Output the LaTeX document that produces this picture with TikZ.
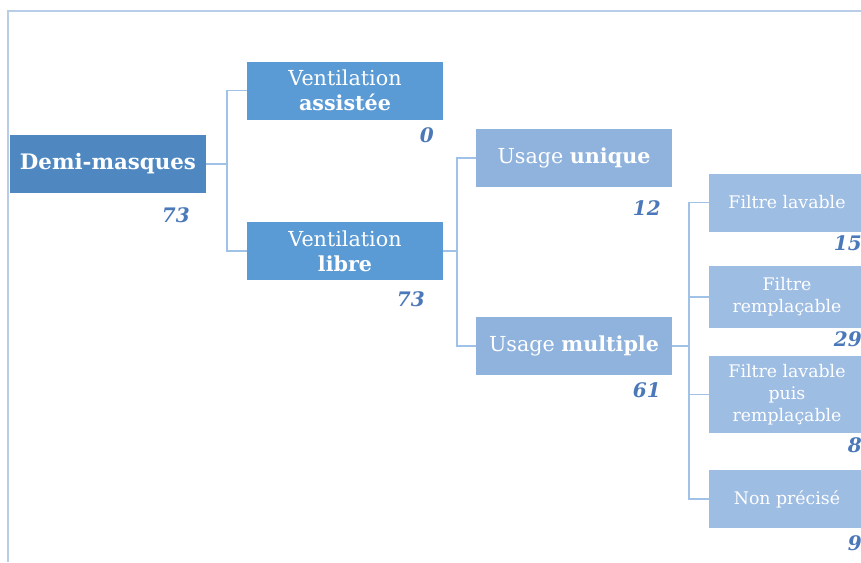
\documentclass[tikz,border=0pt]{standalone}
\usepackage{fontspec}
\setmainfont{DejaVu Serif}
\usetikzlibrary{positioning}
\definecolor{dmblue}{RGB}{79,136,193}
\definecolor{ventblue}{RGB}{91,155,213}
\definecolor{usageblue}{RGB}{143,179,221}
\definecolor{filtblue}{RGB}{158,189,227}
\definecolor{numblue}{RGB}{74,120,184}
\definecolor{linkblue}{RGB}{160,194,230}
\definecolor{frameblue}{RGB}{184,205,232}

\begin{document}
\begin{tikzpicture}
    [x=0.75pt,y=-0.75pt,
     box/.style={rectangle,text=white,align=center,inner sep=0pt,
                 minimum width=147pt,minimum height=43.5pt,
                 font=\fontsize{15.5}{19}\selectfont},
     sub/.style={box,minimum width=117pt,font=\fontsize{13}{16.5}\selectfont},
     num/.style={anchor=east,inner sep=0pt,text=numblue,font=\fontsize{15}{17}\selectfont\bfseries\itshape},
     link/.style={draw=linkblue,line width=1.3pt}]
    \useasboundingbox (0,0) rectangle (861,562);
    % cadre
    \draw[frameblue,line width=1.8pt] (861,11) -- (8,11) -- (8,562);

    \node[box,fill=dmblue,font=\fontsize{16}{18}\selectfont\bfseries] (dm) at (108,164) {Demi-masques};
    \node[box,fill=ventblue] (va) at (345,90.5) {Ventilation\\\textbf{assistée}};
    \node[box,fill=ventblue] (vl) at (345,251) {Ventilation\\\textbf{libre}};
    \node[box,fill=usageblue] (uu) at (574,158) {Usage \textbf{unique}};
    \node[box,fill=usageblue] (um) at (574,346) {Usage \textbf{multiple}};
    \node[sub,fill=filtblue] (fl) at (787,202.5) {Filtre lavable};
    \node[sub,fill=filtblue,minimum height=46.5pt] (fr) at (787,297) {Filtre\\remplaçable};
    \node[sub,fill=filtblue,minimum height=57.75pt] (fp) at (787,394.5) {Filtre lavable\\puis\\remplaçable};
    \node[sub,fill=filtblue] (np) at (787,499) {Non précisé};

    \node[num] (ndm) at (190,215) {73};
    \node[num] (nva) at (434,135) {0};
    \node[num] (nvl) at (425,299) {73};
    \node[num] (nuu) at (661,208) {12};
    \node[num] (num) at (661,390) {61};
    \node[num] (nfl) at (862,243) {15};
    \node[num] (nfr) at (862,339) {29};
    \node[num] (nfp) at (862,445) {8};
    \node[num] (nnp) at (862,543) {9};

    \draw[link] (dm.east) -- ++(21,0) coordinate (j1);
    \draw[link] (va.west) -| (j1) |- (vl.west);
    \draw[link] (vl.east) -- ++(14,0) coordinate (j2);
    \draw[link] (uu.west) -| (j2) |- (um.west);
    \draw[link] (um.east) -- ++(17,0) coordinate (j3);
    \draw[link] (fl.west) -| (j3) |- (np.west);
    \draw[link] (fr.west) -- (fr.west -| j3);
    \draw[link] (fp.west) -- (fp.west -| j3);
\end{tikzpicture}
\end{document}
